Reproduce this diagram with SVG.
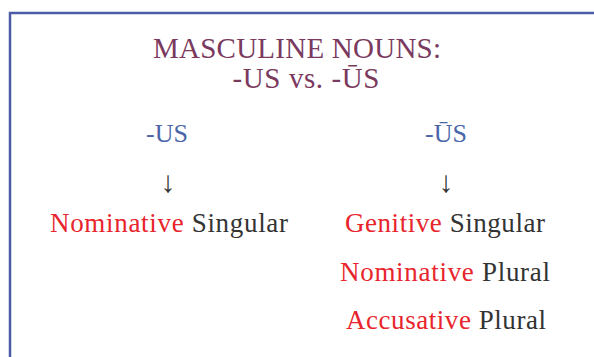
<svg xmlns="http://www.w3.org/2000/svg" width="594" height="357" viewBox="0 0 594 357">
<style>
.t{fill:#7a3a5e;font-size:29px}
.h{fill:#4a66a8;font-size:26px}
.a{fill:#333;font-size:30px}
.b{font-size:27px;fill:#333}
.r{fill:#e8242c}
</style>
<rect width="594" height="357" fill="#fff"/>
<path d="M10,357V13H594" fill="none" stroke="#4d5ca6" stroke-width="2.5"/>
<g font-family="Liberation Serif, serif">
<g id="title">
<text class="t" x="297" y="58" text-anchor="middle" textLength="288" lengthAdjust="spacing">MASCULINE NOUNS:</text>
<text class="t" x="306" y="88" text-anchor="middle" textLength="147" lengthAdjust="spacing">-US vs. -ŪS</text>
</g>
<g id="us">
<text class="h" x="167" y="142" text-anchor="middle">-US</text>
</g>
<g id="uus">
<text class="h" x="446" y="142" text-anchor="middle">-ŪS</text>
</g>
<g id="connectors">
<text class="a" x="168" y="192" text-anchor="middle">↓</text>
<text class="a" x="446" y="192" text-anchor="middle">↓</text>
</g>
<g id="nom-sg">
<text class="b" x="50" y="232" textLength="238" lengthAdjust="spacing"><tspan class="r">Nominative</tspan> Singular</text>
</g>
<g id="gen-sg">
<text class="b" x="345" y="232" textLength="200" lengthAdjust="spacing"><tspan class="r">Genitive</tspan> Singular</text>
</g>
<g id="nom-pl">
<text class="b" x="340" y="281" textLength="210" lengthAdjust="spacing"><tspan class="r">Nominative</tspan> Plural</text>
</g>
<g id="acc-pl">
<text class="b" x="346" y="329" textLength="200" lengthAdjust="spacing"><tspan class="r">Accusative</tspan> Plural</text>
</g>
</g>
</svg>
